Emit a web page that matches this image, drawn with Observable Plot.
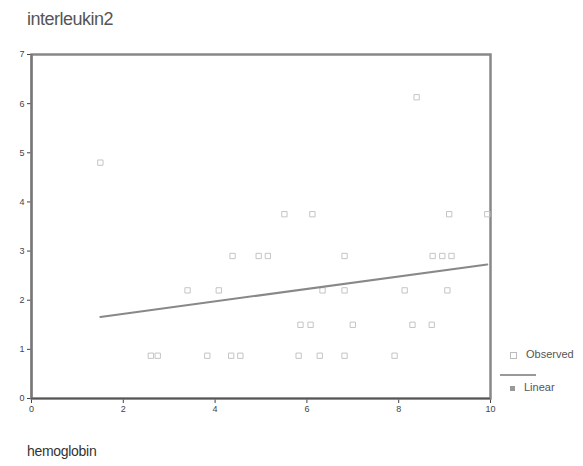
<!DOCTYPE html>
<html><head><meta charset="utf-8">
<script src="https://cdn.jsdelivr.net/npm/d3@7"></script>
<script src="https://cdn.jsdelivr.net/npm/@observablehq/plot@0.6"></script>
<style>
body{margin:0;background:#fff;font-family:"Liberation Sans",Arial,sans-serif;}
#wrap{position:relative;width:583px;height:466px;overflow:hidden;}
#title{position:absolute;left:27px;top:9px;font-size:18px;color:#555;letter-spacing:-0.5px;}
#xlab{position:absolute;left:27px;top:443px;font-size:14px;color:#333;letter-spacing:-0.3px;}
.leg{position:absolute;font-size:11px;color:#555;}
</style></head><body>
<div id="wrap">
<div id="title">interleukin2</div>
<div id="chart"></div>
<div id="xlab">hemoglobin</div>
<div class="leg" style="left:510px;top:348px"><span style="display:inline-block;width:5px;height:5px;border:1px solid #bbb;margin-right:9px;vertical-align:middle"></span>Observed</div>
<div class="leg" style="left:500px;top:374px;width:36px;height:0;border-top:2px solid #999"></div>
<div class="leg" style="left:510px;top:381px"><span style="display:inline-block;width:5px;height:5px;background:#999;margin-right:9px;vertical-align:middle"></span>Linear</div>
</div>
<script>
const hemoglobin = [1.5, 2.6, 2.75, 3.83, 4.35, 4.55, 5.82, 6.28, 6.82, 7.91,
  5.86, 6.08, 7.0, 8.3, 8.72,
  3.4, 4.08, 6.34, 6.82, 8.13, 9.06,
  4.38, 4.95, 5.15, 6.82, 8.74, 8.95, 9.15,
  5.51, 6.12, 9.1, 9.93,
  8.39];
const interleukin2 = [4.8, 0.87, 0.87, 0.87, 0.87, 0.87, 0.87, 0.87, 0.87, 0.87,
  1.5, 1.5, 1.5, 1.5, 1.5,
  2.2, 2.2, 2.2, 2.2, 2.2, 2.2,
  2.9, 2.9, 2.9, 2.9, 2.9, 2.9, 2.9,
  3.75, 3.75, 3.75, 3.75,
  6.13];
const xTicks = [0, 2, 4, 6, 8, 10];
const yTicks = [0, 1, 2, 3, 4, 5, 6, 7];
const data = hemoglobin.map((h, i) => ({h, v: interleukin2[i]}));

const chart = Plot.plot({
  width: 583, height: 466,
  marginLeft: 31, marginRight: 93, marginTop: 54, marginBottom: 68,
  style: {fontFamily: "Liberation Sans, Arial, sans-serif", fontSize: "9px", color: "#444", background: "#fff"},
  x: {domain: [0, 10], ticks: xTicks, tickFormat: "d", label: null, tickSize: 5, tickPadding: 2},
  y: {domain: [0, 7], ticks: yTicks, tickFormat: "d", label: null, tickSize: 4, tickPadding: 3},
  marks: [
    Plot.frame({stroke: "#888", strokeWidth: 2.5}),
    Plot.ruleY([0], {stroke: "#555", strokeWidth: 1.5}),
    Plot.ruleX([0], {stroke: "#777", strokeWidth: 2}),
    Plot.dot(data, {x: "h", y: "v", symbol: "square", r: 3, stroke: "#c4c4c4", strokeWidth: 1, fill: "none"}),
    Plot.linearRegressionY(data, {x: "h", y: "v", stroke: "#888", strokeWidth: 2, ci: 0})
  ]
});
document.getElementById("chart").appendChild(chart);
</script>
</body></html>
